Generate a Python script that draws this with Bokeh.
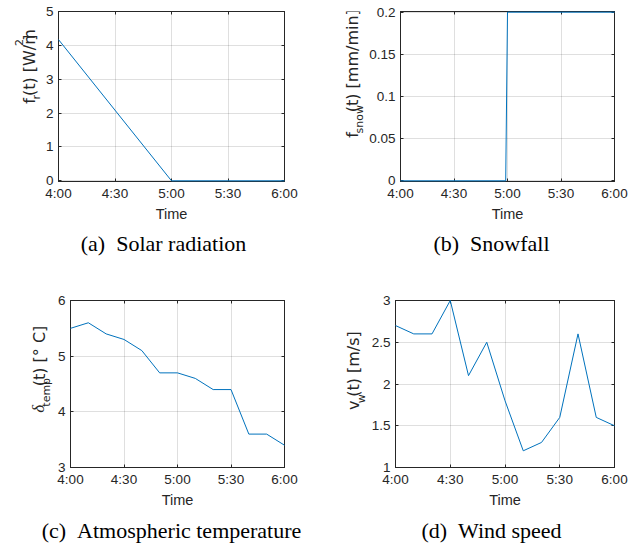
import math
from bokeh.plotting import figure
from bokeh.models import Range1d, FixedTicker, LinearAxis
from bokeh.core.properties import value
from bokeh.layouts import column, row
from bokeh.embed import file_html
from bokeh.resources import INLINE

# ---------------- data ----------------
time_ticks = [0, 30, 60, 90, 120]          # minutes after 4:00
time_labels = ["4:00", "4:30", "5:00", "5:30", "6:00"]

solar_t = [0, 60, 120]
solar_v = [4.17, 0.0, 0.0]

snow_t = [0, 59, 60, 120]
snow_v = [0.0, 0.0, 0.2, 0.2]

temp_t = [0, 10, 20, 30, 40, 50, 60, 70, 80, 90, 100, 110, 120]
temp_v = [5.5, 5.6, 5.4, 5.3, 5.1, 4.7, 4.7, 4.6, 4.4, 4.4, 3.6, 3.6, 3.4]

wind_t = [0, 10, 20, 30, 40, 50, 60, 70, 80, 90, 100, 110, 120]
wind_v = [2.7, 2.6, 2.6, 3.0, 2.1, 2.5, 1.8, 1.2, 1.3, 1.6, 2.6, 1.6, 1.5]

solar_yticks = [0, 1, 2, 3, 4, 5]
snow_yticks = [0, 0.05, 0.1, 0.15, 0.2]
snow_ylabels = ["0", "0.05", "0.1", "0.15", "0.2"]
temp_yticks = [3, 4, 5, 6]
wind_yticks = [1, 1.5, 2, 2.5, 3]
wind_ylabels = ["1", "1.5", "2", "2.5", "3"]

captions = ["(a)\u2002Solar radiation", "(b)\u2002Snowfall",
            "(c)\u2002Atmospheric temperature", "(d)\u2002Wind speed"]

# ---------------- style ----------------
DARK = "#262626"
BLUE = "#0072BD"
SANS = "Liberation Sans"
LABF = "DejaVu Sans"
SERIF = "Liberation Serif"
ASCENT = {LABF: 0.928, SERIF: 0.891}

# approximate advance widths (em) for DejaVu Sans, used to stack label pieces
DJV = {" ": .318, "(": .390, ")": .390, "[": .390, "]": .390, "/": .337,
       "t": .392, "f": .352, "r": .411, "m": .974, "W": .989, "s": .521,
       "n": .634, "o": .612, "w": .818, "i": .278, "v": .592, "e": .615,
       "p": .635, "C": .698, "°": .500, "2": .636, "δ": .50}


def text_w(t, size):
    return sum(DJV.get(c, .6) for c in t) * size


def blank(w, h):
    """A figure with no axes whose frame covers it entirely (pixel data units)."""
    p = figure(width=w, height=h, output_backend="svg", toolbar_location=None,
               x_range=Range1d(0, w), y_range=Range1d(0, h),
               x_axis_location=None, y_axis_location=None, min_border=0,
               background_fill_color="white", border_fill_color="white")
    p.outline_line_color = None
    p.grid.visible = False
    return p


def plot_fig(w, h, bl, br, bt, bb, yr, yticks, ylabels=None):
    p = figure(width=w, height=h, output_backend="svg", toolbar_location=None,
               x_range=Range1d(0, 120), y_range=Range1d(*yr),
               min_border_left=bl, min_border_right=br,
               min_border_top=bt, min_border_bottom=bb,
               background_fill_color="white", border_fill_color="white")
    p.outline_line_color = DARK
    p.outline_line_width = 1
    for ax in (p.xaxis[0], p.yaxis[0]):
        ax.axis_line_color = DARK
        ax.major_tick_line_color = DARK
        ax.major_tick_in = 3
        ax.major_tick_out = 0
        ax.minor_tick_line_color = None
        ax.major_label_text_font = SANS
        ax.major_label_text_font_size = "13.5px"
        ax.major_label_text_color = DARK
    xa = p.xaxis[0]
    xa.ticker = FixedTicker(ticks=time_ticks)
    xa.major_label_overrides = {t: l for t, l in zip(time_ticks, time_labels)}
    xa.major_label_standoff = 4
    xa.axis_label = "Time"
    xa.axis_label_text_font = SANS
    xa.axis_label_text_font_size = "14.5px"
    xa.axis_label_text_font_style = "normal"
    xa.axis_label_text_color = DARK
    xa.axis_label_standoff = 2
    ya = p.yaxis[0]
    ya.ticker = FixedTicker(ticks=yticks)
    if ylabels:
        ya.major_label_overrides = {t: l for t, l in zip(yticks, ylabels)}
    ya.major_label_standoff = 5
    # mirrored ticks on top and right (box on)
    for loc in ("above", "right"):
        ax = LinearAxis(ticker=FixedTicker(ticks=time_ticks if loc == "above" else yticks),
                        major_tick_in=3, major_tick_out=0,
                        minor_tick_line_color=None,
                        axis_line_color=DARK, major_tick_line_color=DARK,
                        major_label_text_font_size="0px",
                        major_label_text_color=None,
                        major_label_standoff=0)
        p.add_layout(ax, loc)
    p.xgrid.ticker = FixedTicker(ticks=time_ticks)
    p.ygrid.ticker = FixedTicker(ticks=yticks)
    for g in (p.xgrid[0], p.ygrid[0]):
        g.grid_line_color = DARK
        g.grid_line_alpha = 0.15
        g.grid_line_width = 1
    return p


def ylabel_fig(w, h, pieces, xb, center):
    """Rotated y label built from pieces (text, size, font, style, baseline shift)."""
    p = blank(w, h)
    total = sum(text_w(t, s) for t, s, f, st, sh in pieces)
    y = center - total / 2
    for t, s, f, st, sh in pieces:
        p.text(x=[xb + sh - ASCENT[f] * s], y=[y], text=[t], angle=math.pi / 2,
               text_align="left", text_baseline="top",
               text_font=value(f), text_font_size=value(f"{s}px"),
               text_font_style=st, text_color=DARK)
        y += text_w(t, s)
    return p


def caption_fig(w, h, text, x, y):
    p = blank(w, h)
    p.text(x=[x], y=[y], text=[text], text_align="center", text_baseline="middle",
           text_font=value(SERIF), text_font_size=value("22px"), text_color="black")
    return p


def panel(lab, plot, cap):
    return column(row(lab, plot), cap)


# (a) solar radiation
pa = plot_fig(280, 227, 15, 38, 11, 46, (-0.02, 5), solar_yticks)
pa.line(solar_t, solar_v, line_color=BLUE, line_width=1, level="overlay")
la = ylabel_fig(42, 227, [("f", 16, LABF, "normal", 0), ("r", 11, LABF, "normal", 6),
                          ("(t) [W/m", 16, LABF, "normal", 0), ("2", 11, LABF, "normal", -9),
                          ("]", 16, LABF, "normal", 0)], 34, 149)
ca = caption_fig(322, 48, captions[0], 163, 32)

# (b) snowfall
pb = plot_fig(276, 227, 34, 28, 11, 46, (-0.0008, 0.2008), snow_yticks, snow_ylabels)
pb.line(snow_t, snow_v, line_color=BLUE, line_width=1, level="overlay")
lb = ylabel_fig(44, 227, [("f", 16, LABF, "normal", 0), ("snow", 11, LABF, "normal", 6),
                          ("(t) [mm/min]", 16, LABF, "normal", 0)], 35, 127)
cb = caption_fig(320, 48, captions[1], 169, 32)

# (c) atmospheric temperature
pc = plot_fig(268, 235, 14, 38, 25, 40, (3, 6), temp_yticks)
pc.line(temp_t, temp_v, line_color=BLUE, line_width=1, level="overlay")
lc = ylabel_fig(54, 235, [("δ", 17, SERIF, "italic", 0), ("temp", 11, LABF, "normal", 6),
                          ("(t) [° C]", 16, LABF, "normal", 0)], 44, 126)
cc = caption_fig(322, 38, captions[2], 171, 18)

# (d) wind speed
pd_ = plot_fig(274, 235, 26, 28, 25, 40, (1, 3), wind_yticks, wind_ylabels)
pd_.line(wind_t, wind_v, line_color=BLUE, line_width=1, level="overlay")
ld = ylabel_fig(46, 235, [("v", 16, LABF, "normal", 0), ("w", 11, LABF, "normal", 7),
                          ("(t) [m/s]", 16, LABF, "normal", 0)], 36, 123)
cd = caption_fig(320, 38, captions[3], 169, 18)

layout = column(row(panel(la, pa, ca), panel(lb, pb, cb)),
                row(panel(lc, pc, cc), panel(ld, pd_, cd)))
open("out.html", "w").write(file_html(layout, INLINE))
